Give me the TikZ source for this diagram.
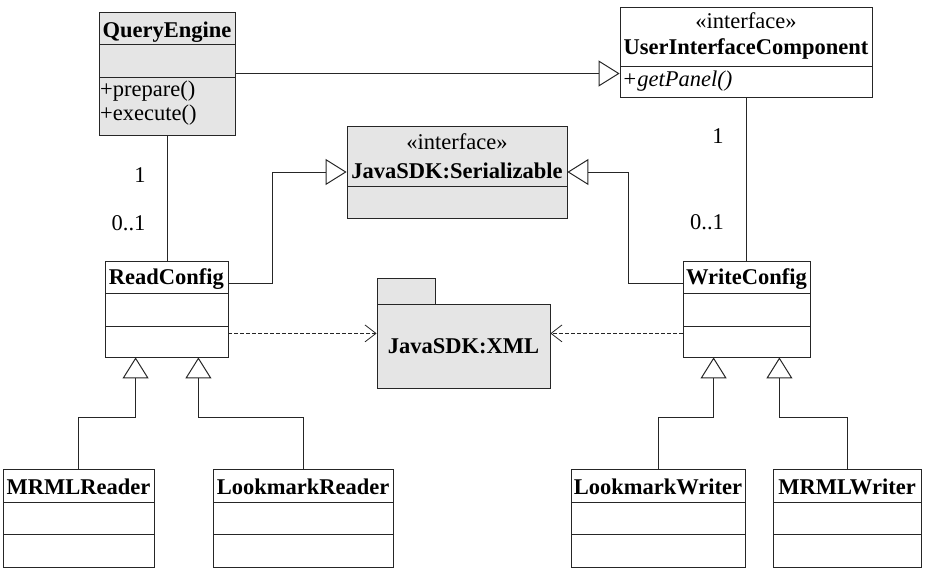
\documentclass[tikz,border=0pt]{standalone}
\usepackage{fontspec}
\setmainfont{Liberation Serif}
\usetikzlibrary{arrows.meta,calc}

\begin{document}
\begin{tikzpicture}[x=1pt,y=-1pt,
  font=\fontsize{22.5}{26}\selectfont,
  box/.style={draw=black!85, line width=0.8pt, rectangle, inner sep=0pt},
  shaded/.style={fill=black!10},
  txt/.style={inner sep=0pt, anchor=base},
  ttl/.style={txt, font=\fontsize{22.5}{26}\selectfont\bfseries},
  op/.style={txt, anchor=base west},
  wire/.style={draw=black!85, line width=0.8pt},
  gen/.style={wire, -{Triangle[open, length=21pt, width=26pt, line width=1pt]}},
  dep/.style={wire, dash pattern=on 4pt off 2pt, -{Straight Barb[length=11pt, width=17pt, line width=0.8pt]}}
]
\useasboundingbox (0,0) rectangle (927,568);

% ---------- classes ----------
% QueryEngine
\node[box, shaded, minimum width=136pt, minimum height=123pt] (qe) at (167,73.5) {};
\draw[wire] (99,44) -- (235,44) (99,77) -- (235,77);
\node[ttl] (qet) at (167,37) {QueryEngine};
\node[op] (qeo1) at (100,96) {+prepare()};
\node[op] (qeo2) at (100,120) {+execute()};

% UserInterfaceComponent
\node[box, minimum width=252pt, minimum height=90pt] (uic) at (746,52) {};
\draw[wire] (620,66) -- (872,66);
\node[txt] (uics) at (746,28) {«interface»};
\node[ttl] (uict) at (746,54) {UserInterfaceComponent};
\node[op] (uico) at (622,86) {\itshape +getPanel()};

% JavaSDK:Serializable
\node[box, shaded, minimum width=220pt, minimum height=92pt] (ser) at (457,172) {};
\draw[wire] (347,186) -- (567,186);
\node[txt] (sers) at (457,149) {«interface»};
\node[ttl] (sert) at (457,178) {JavaSDK:Serializable};

% ReadConfig
\node[box, minimum width=123pt, minimum height=96pt] (rc) at (166.5,309) {};
\draw[wire] (105,293) -- (228,293) (105,326) -- (228,326);
\node[ttl] (rct) at (166.5,284) {ReadConfig};

% WriteConfig
\node[box, minimum width=127pt, minimum height=96pt] (wc) at (746.5,309) {};
\draw[wire] (683,293) -- (810,293) (683,326) -- (810,326);
\node[ttl] (wct) at (746.5,284) {WriteConfig};

% package JavaSDK:XML
\draw[box, shaded] (377,278) rectangle (435,304);
\node[box, shaded, minimum width=173pt, minimum height=84pt] (xml) at (463.5,346) {};
\node[ttl] (xmlt) at (463.5,353) {JavaSDK:XML};

% readers and writers
\node[box, minimum width=151pt, minimum height=98pt] (mr) at (78.5,518) {};
\draw[wire] (3,502) -- (154,502) (3,534) -- (154,534);
\node[ttl] (mrt) at (78.5,494) {MRMLReader};

\node[box, minimum width=180pt, minimum height=98pt] (lr) at (303,518) {};
\draw[wire] (213,502) -- (393,502) (213,534) -- (393,534);
\node[ttl] (lrt) at (303,494) {LookmarkReader};

\node[box, minimum width=174pt, minimum height=98pt] (lw) at (658,518) {};
\draw[wire] (571,502) -- (745,502) (571,534) -- (745,534);
\node[ttl] (lwt) at (658,494) {LookmarkWriter};

\node[box, minimum width=148pt, minimum height=98pt] (mw) at (847,518) {};
\draw[wire] (773,502) -- (921,502) (773,534) -- (921,534);
\node[ttl] (mwt) at (847,494) {MRMLWriter};

% ---------- associations ----------
\draw[wire] (qe.south) -- (qe.south |- rc.north);
\node[txt] (m1) at (140,182) {1};
\node[txt] (m2) at (128.5,230) {0..1};

\draw[wire] (uic.south) -- (uic.south |- wc.north);
\node[txt] (m3) at (718,143) {1};
\node[txt] (m4) at (707,229) {0..1};

% ---------- realisations / generalisations ----------
\draw[gen] (qe.east) -- (qe.east -| uic.west);
\draw[gen] ($(rc.north east)+(0,23)$) -- ++(44,0) |- (ser.west);
\draw[gen] ($(wc.north west)+(0,23)$) -- ++(-54,0) |- (ser.east);

\coordinate (r1) at ($(rc.south west)+(31,0)$);
\coordinate (r2) at ($(rc.south east)+(-30,0)$);
\coordinate (w1) at ($(wc.south west)+(31,0)$);
\coordinate (w2) at ($(wc.south east)+(-31,0)$);
\draw[gen] (mr.north) |- ($(r1)+(0,60)$) -- (r1);
\draw[gen] (lr.north) |- ($(r2)+(0,60)$) -- (r2);
\draw[gen] (lw.north) |- ($(w1)+(0,60)$) -- (w1);
\draw[gen] (mw.north) |- ($(w2)+(0,60)$) -- (w2);

% ---------- dependencies ----------
\coordinate (d1) at ($(rc.south east)+(0,-24)$);
\coordinate (d2) at ($(wc.south west)+(0,-24)$);
\draw[dep] (d1) -- (d1 -| xml.west);
\draw[dep] (d2) -- (d2 -| xml.east);
\end{tikzpicture}
\end{document}
